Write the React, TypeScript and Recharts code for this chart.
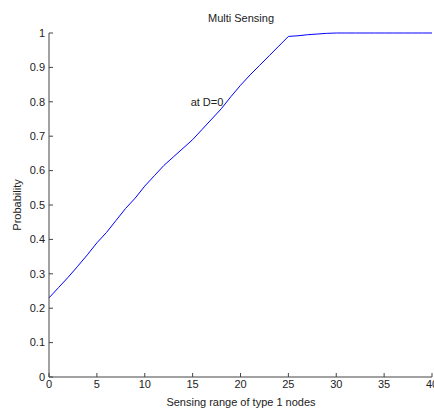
import { LineChart, Line, XAxis, YAxis, ReferenceDot } from 'recharts'

const rangeValues = [
  0, 1, 2, 3, 4, 5, 6, 7, 8, 9, 10, 11, 12, 13, 14, 15, 16, 17, 18, 19, 20,
  21, 22, 23, 24, 25, 26, 27, 28, 29, 30, 31, 32, 33, 34, 35, 36, 37, 38, 39, 40,
]
const probability = [
  0.23, 0.26, 0.29, 0.322, 0.355, 0.39, 0.42, 0.455, 0.49, 0.52, 0.555,
  0.585, 0.615, 0.64, 0.665, 0.69, 0.72, 0.75, 0.78, 0.815, 0.848,
  0.878, 0.906, 0.934, 0.962, 0.99, 0.992, 0.995, 0.997, 0.999, 1,
  1, 1, 1, 1, 1, 1, 1, 1, 1, 1,
]
const xTicks = [0, 5, 10, 15, 20, 25, 30, 35, 40]
const yTicks = [0, 0.1, 0.2, 0.3, 0.4, 0.5, 0.6, 0.7, 0.8, 0.9, 1]

const data = rangeValues.map((r, i) => ({ r, p: probability[i] }))

const FONT = '"Liberation Sans", Arial, sans-serif'
const TEXT = '#222'
const AXIS = '#444'

// MATLAB-style ticks: labels outside, short marks pointing into the plot
const YTick = (props: any) => {
  const { x, y, payload } = props
  return (
    <g>
      <line x1={x + 4} x2={x + 8} y1={y} y2={y} stroke={AXIS} />
      <text x={x} y={y} dy="0.35em" textAnchor="end" fill={TEXT} fontSize={11} fontFamily={FONT}>
        {payload.value}
      </text>
    </g>
  )
}

const XTick = (props: any) => {
  const { x, y, payload } = props
  return (
    <g>
      <line x1={x} x2={x} y1={y - 3} y2={y - 7} stroke={AXIS} />
      <text x={x} y={y} dy="0.71em" textAnchor="middle" fill={TEXT} fontSize={11} fontFamily={FONT}>
        {payload.value}
      </text>
    </g>
  )
}

export default function App() {
  return (
    <div style={{ position: 'absolute', left: 0, top: 0, width: 434, height: 409, overflow: 'hidden', background: '#fff' }}>
      <LineChart width={434} height={409} data={data} margin={{ top: 33, right: 2, bottom: 12, left: 0 }}>
        <XAxis
          dataKey="r"
          type="number"
          domain={[0, 40]}
          ticks={xTicks}
          interval={0}
          height={20}
          tickSize={0}
          tickMargin={3}
          tick={<XTick />}
          stroke={AXIS}
        />
        <YAxis
          type="number"
          domain={[0, 1]}
          ticks={yTicks}
          interval={0}
          width={49}
          tickSize={0}
          tickMargin={4}
          tick={<YTick />}
          stroke={AXIS}
        />
        <Line dataKey="p" stroke="#0000ff" strokeWidth={1} dot={false} isAnimationActive={false} />
        <ReferenceDot
          x={15}
          y={0.8}
          r={0}
          label={{ value: 'at D=0', position: 'right', offset: -2, fill: TEXT, fontSize: 11, fontFamily: FONT }}
        />
        <text x={241} y={18} dy="0.35em" textAnchor="middle" fill={TEXT} fontSize={11} fontFamily={FONT}>
          Multi Sensing
        </text>
        <text x={241} y={406} textAnchor="middle" fill={TEXT} fontSize={11} fontFamily={FONT}>
          Sensing range of type 1 nodes
        </text>
        <text x={21} y={205} transform="rotate(-90, 21, 205)" textAnchor="middle" fill={TEXT} fontSize={11} fontFamily={FONT}>
          Probability
        </text>
      </LineChart>
    </div>
  )
}
